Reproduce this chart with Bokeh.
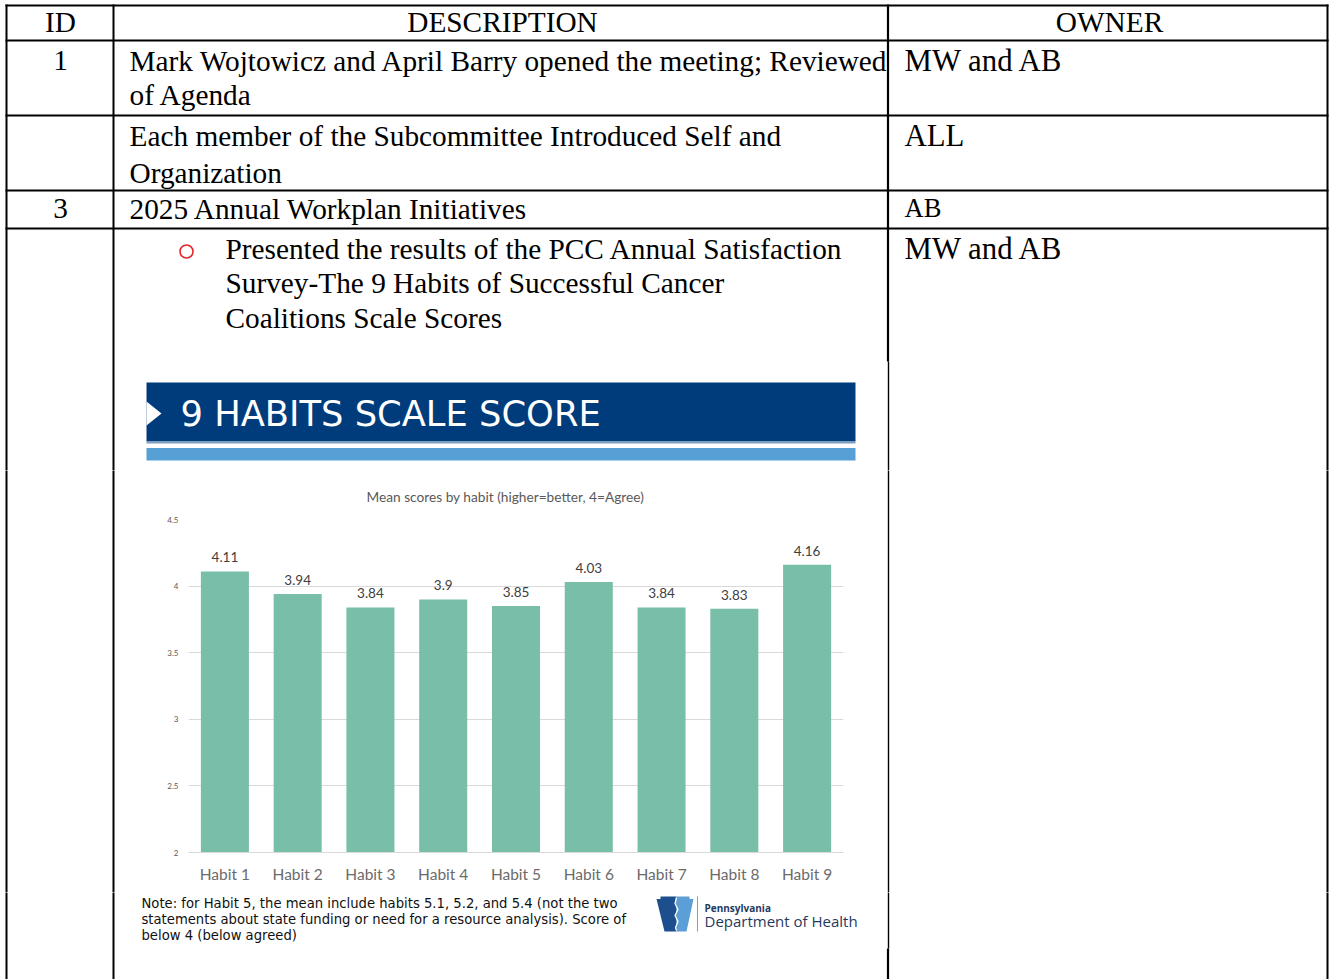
from bokeh.plotting import figure
from bokeh.models import Range1d, FactorRange, FixedTicker, Title
from bokeh.layouts import column, row
from bokeh.embed import file_html
from bokeh.resources import INLINE
from bokeh.core.properties import value

# ---------------- data ----------------
habits = ["Habit 1", "Habit 2", "Habit 3", "Habit 4", "Habit 5",
          "Habit 6", "Habit 7", "Habit 8", "Habit 9"]
mean_scores = [4.11, 3.94, 3.84, 3.9, 3.85, 4.03, 3.84, 3.83, 4.16]
score_ticks = [2, 2.5, 3, 3.5, 4, 4.5]
score_tick_labels = ["2", "2.5", "3", "3.5", "4", "4.5"]
chart_title = "Mean scores by habit (higher=better, 4=Agree)"
banner_title = "9 HABITS SCALE SCORE"
note_lines = [
    "Note: for Habit 5, the mean include habits 5.1, 5.2, and 5.4 (not the two",
    "statements about state funding or need for a resource analysis). Score of",
    "below 4 (below agreed)",
]
table_headers = ["ID", "DESCRIPTION", "OWNER"]
item_ids = ["1", "", "3", ""]
item_text = [
    ["Mark Wojtowicz and April Barry opened the meeting; Reviewed", "of Agenda"],
    ["Each member of the Subcommittee Introduced Self and", "Organization"],
    ["2025 Annual Workplan Initiatives"],
    ["Presented the results of the PCC Annual Satisfaction",
     "Survey-The 9 Habits of Successful Cancer",
     "Coalitions Scale Scores"],
]
item_owners = ["MW and AB", "ALL", "AB", "MW and AB"]
logo_small = "Pennsylvania"
logo_big = "Department of Health"

# ---------------- layout (page pixel coordinates) ----------------
PX0, PX1 = 0, 1329
PY0, PY1 = 0, 979
SPLIT1, SPLIT2 = 470, 892
CX0, CX1 = 141, 870
FRAME_L, FRAME_R, FRAME_T, FRAME_B = 188, 843, 519, 852

SERIF = value("Liberation Serif")
TXT = 29.3

h_lines = [5, 40, 115, 190, 228]
v_lines = [  # x, y0, y1, width
    (6, 4, 990, 2), (113, 4, 990, 2), (887.5, 4, 361, 2.2),
    (888, 361, 948, 1.4), (887.5, 948, 990, 2.2), (1327, 4, 990, 2),
]

col_center = [60, 502, 1109]
header_mid = 21
id_mid = [60, 0, 208, 0]
desc_x = [129, 129, 129, 225]
desc_mid = [[60, 94], [135, 172], [208], [248, 282, 317]]
owner_x = 904
owner_mid = [60, 135, 207, 248]
owner_size = [30.8, 30.8, 26.5, 30.8]


def page_fig(x0, x1, y0, y1):
    f = figure(width=x1 - x0, height=y1 - y0,
               x_range=Range1d(x0, x1), y_range=Range1d(y1, y0),
               x_axis_type=None, y_axis_type=None,
               output_backend="svg", toolbar_location=None, tools="",
               min_border=0, frame_align=False)
    f.grid.visible = False
    f.outline_line_color = None
    f.background_fill_color = "white"
    f.border_fill_color = "white"
    f.segment(x0=[5] * len(h_lines), x1=[1328] * len(h_lines),
              y0=h_lines, y1=h_lines, line_color="black", line_width=2)
    for (x, a, b, w) in v_lines:
        f.segment(x0=[x], x1=[x], y0=[a], y1=[b], line_color="black", line_width=w)
    return f


def txt(f, x, y, s, size, font=SERIF, align="left", color="black", style="normal"):
    f.text(x=[x], y=[y], text=[s], text_font=font, text_font_size=f"{size}px",
           text_align=align, text_baseline="middle", text_color=color,
           text_font_style=style)


# ---------------- top figure: table + banner ----------------
top = page_fig(PX0, PX1, PY0, SPLIT1)
for cx, h in zip(col_center, table_headers):
    txt(top, cx, header_mid, h, TXT, align="center")
for i in range(4):
    if item_ids[i]:
        txt(top, col_center[0], id_mid[i], item_ids[i], TXT, align="center")
    for line, ym in zip(item_text[i], desc_mid[i]):
        txt(top, desc_x[i], ym, line, TXT)
    txt(top, owner_x, owner_mid[i], item_owners[i], owner_size[i])
top.scatter(x=[186], y=[251], size=13, marker="circle", fill_color=None,
            line_color="#E8262B", line_width=1.6)

# banner
top.quad(left=[146], right=[855], top=[382], bottom=[441], fill_color="#003C7B", line_color=None)
top.quad(left=[146], right=[855], top=[441], bottom=[443], fill_color="#7F9DBE", line_color=None)
top.quad(left=[146], right=[855], top=[447.5], bottom=[460], fill_color="#57A0D6", line_color=None)
top.patch(x=[146, 161, 146], y=[401, 413, 425], fill_color="white", line_color=None)
txt(top, 180, 413, banner_title, 35.3, font=value("DejaVu Sans"), color="white")

# ---------------- middle row: chart ----------------
mid_left = page_fig(PX0, CX0, SPLIT1, SPLIT2)
mid_right = page_fig(CX1, PX1, SPLIT1, SPLIT2)

chart = figure(width=CX1 - CX0, height=SPLIT2 - SPLIT1,
               x_range=FactorRange(factors=habits, range_padding=0),
               y_range=Range1d(score_ticks[0], score_ticks[-1]),
               output_backend="svg", toolbar_location=None, tools="",
               frame_align=False,
               min_border_left=FRAME_L - CX0, min_border_right=CX1 - FRAME_R,
               min_border_top=FRAME_T - SPLIT1, min_border_bottom=SPLIT2 - FRAME_B)
chart.outline_line_color = None
chart.background_fill_color = "white"
chart.border_fill_color = "white"
chart.title = Title(text=chart_title, align="left", offset=366 - FRAME_L,
                    text_font="Lato", text_font_size="13.7px",
                    text_font_style="normal", text_color="#595959", standoff=30)

chart.vbar(x=habits, top=mean_scores, bottom=score_ticks[0], width=0.66,
           fill_color="#78BEA9", line_color=None)
chart.text(x=habits, y=mean_scores, text=[f"{v:g}" for v in mean_scores],
           text_align="center", text_baseline="middle", y_offset=-14,
           text_font=value("Lato"), text_font_size="13.5px", text_color="#404040")

chart.xgrid.visible = False
chart.ygrid.ticker = FixedTicker(ticks=score_ticks)
chart.ygrid.grid_line_color = "#D9D9D9"
chart.ygrid.grid_line_width = 1

ya = chart.yaxis[0]
ya.ticker = FixedTicker(ticks=score_ticks)
ya.major_label_overrides = {t: l for t, l in zip(score_ticks, score_tick_labels)}
ya.axis_line_color = None
ya.major_tick_line_color = None
ya.minor_tick_line_color = None
ya.major_tick_out = 0
ya.major_tick_in = 0
ya.major_label_standoff = 10
ya.major_label_text_font = "Lato"
ya.major_label_text_font_size = "8px"
ya.major_label_text_color = "#595959"

xa = chart.xaxis[0]
xa.axis_line_color = "#D9D9D9"
xa.major_tick_line_color = None
xa.minor_tick_line_color = None
xa.major_tick_out = 0
xa.major_tick_in = 0
xa.major_label_standoff = 12
xa.major_label_text_font = "Lato"
xa.major_label_text_font_size = "15.5px"
xa.major_label_text_color = "#6B6B6B"

# ---------------- bottom figure: note + logo ----------------
bottom = page_fig(PX0, PX1, SPLIT2, PY1)
for line, yc in zip(note_lines, [903, 919, 934.5]):
    txt(bottom, 141, yc, line, 13.2, font=value("DejaVu Sans"), color="#111111")

bottom.patch(x=[656, 660, 660, 676, 676, 664], y=[898.5, 898.5, 896, 896, 931, 931],
             fill_color="#1D4F8E", line_color=None)
bottom.patch(x=[676, 689, 689, 693, 686, 676], y=[896, 896, 898.5, 898.5, 931, 931],
             fill_color="#5C9FD6", line_color=None)
bottom.line(x=[676, 674.5, 677.5, 674.5, 677.5, 675, 676],
            y=[897, 903, 909, 915, 921, 927, 930], line_color="white", line_width=1.3)
bottom.segment(x0=[697], x1=[697], y0=[896], y1=[931], line_color="#9A9A9A", line_width=1)
txt(bottom, 704, 907, logo_small, 10, font=value("Open Sans"), color="#1F3A5F", style="bold")
txt(bottom, 704, 920.5, logo_big, 15, font=value("Open Sans"), color="#1F3A5F")

layout = column(top, row(mid_left, chart, mid_right), bottom)

with open("out.html", "w") as fh:
    fh.write(file_html(layout, INLINE))
